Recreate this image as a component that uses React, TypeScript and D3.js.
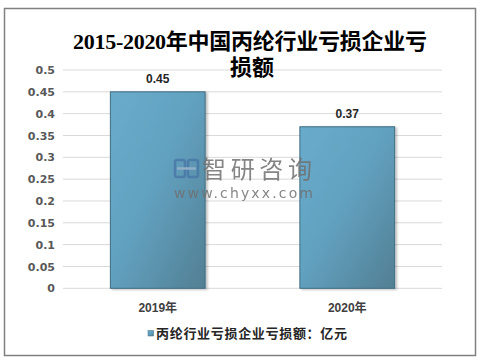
import * as d3 from "d3";
import { useEffect, useRef } from "react";

const categories = ["2019年", "2020年"];
const lossValues = [0.45, 0.37];
const yTicks = [0, 0.05, 0.1, 0.15, 0.2, 0.25, 0.3, 0.35, 0.4, 0.45, 0.5];
const titleLines = ["2015-2020年中国丙纶行业亏损企业亏", "损额"];
const seriesName = "丙纶行业亏损企业亏损额：亿元";

export default function App() {
  const svgRef = useRef<SVGSVGElement | null>(null);

  useEffect(() => {
    document.body.style.margin = "0";
    if (!svgRef.current) return;

    const svg = d3.select(svgRef.current);
    svg.selectAll("*").remove();

    const width = 488;
    const height = 359;
    const margin = { top: 70, right: 46, bottom: 70.7, left: 63 };

    svg.attr("width", width).attr("height", height).attr("viewBox", `0 0 ${width} ${height}`);

    const defs = svg.append("defs");
    const grad = defs
      .append("linearGradient")
      .attr("id", "barGrad")
      .attr("x1", 0)
      .attr("y1", 0)
      .attr("x2", 1)
      .attr("y2", 1);
    grad.append("stop").attr("offset", "0%").attr("stop-color", "#69abcb");
    grad.append("stop").attr("offset", "45%").attr("stop-color", "#62a2c1");
    grad.append("stop").attr("offset", "100%").attr("stop-color", "#527f93");

    const shadow = defs.append("filter").attr("id", "barShadow").attr("x", "-10%").attr("y", "-10%").attr("width", "130%").attr("height", "130%");
    shadow
      .append("feDropShadow")
      .attr("dx", 2)
      .attr("dy", 1)
      .attr("stdDeviation", 1.2)
      .attr("flood-color", "#000")
      .attr("flood-opacity", 0.25);

    // background + frame
    svg.append("rect").attr("width", width).attr("height", height).attr("fill", "#fff");
    svg
      .append("rect")
      .attr("x", 4.5)
      .attr("y", 8.5)
      .attr("width", 471)
      .attr("height", 347)
      .attr("fill", "#fff")
      .attr("stroke", "#808080")
      .attr("stroke-width", 1.5);

    const x = d3
      .scaleBand()
      .domain(categories)
      .range([margin.left, width - margin.right])
      .paddingInner(0.5)
      .paddingOuter(0.25);

    const y = d3
      .scaleLinear()
      .domain([0, 0.5])
      .range([height - margin.bottom, margin.top]);

    // grid lines
    svg
      .append("g")
      .selectAll("line")
      .data(yTicks)
      .join("line")
      .attr("x1", margin.left)
      .attr("x2", width - margin.right)
      .attr("y1", (d) => y(d))
      .attr("y2", (d) => y(d))
      .attr("stroke", "#d9d9d9")
      .attr("stroke-width", 1);

    // y axis labels
    const yAxis = svg
      .append("g")
      .attr("transform", `translate(${margin.left},0)`)
      .call(d3.axisLeft(y).tickValues(yTicks).tickSize(0).tickPadding(8).tickFormat((d) => String(d)));
    yAxis.select(".domain").remove();
    yAxis
      .selectAll(".tick text")
      .attr("fill", "#595959")
      .style("font-family", "'DejaVu Sans', sans-serif")
      .style("font-size", "11px")
      .style("font-weight", "bold");

    // bars
    svg
      .append("g")
      .selectAll("rect")
      .data(lossValues)
      .join("rect")
      .attr("x", (_, i) => x(categories[i])!)
      .attr("y", (d) => y(d))
      .attr("width", x.bandwidth())
      .attr("height", (d) => y(0) - y(d))
      .attr("fill", "url(#barGrad)")
      .attr("stroke", "#3f6d82")
      .attr("stroke-width", 1)
      .attr("filter", "url(#barShadow)");

    // value labels
    svg
      .append("g")
      .selectAll("text")
      .data(lossValues)
      .join("text")
      .attr("x", (_, i) => x(categories[i])! + x.bandwidth() / 2)
      .attr("y", (d) => y(d) - 9)
      .attr("text-anchor", "middle")
      .attr("fill", "#262626")
      .style("font-family", "'Liberation Sans', Arial, sans-serif")
      .style("font-size", "12px")
      .style("font-weight", "bold")
      .text((d) => String(d));

    // x labels
    svg
      .append("g")
      .selectAll("text")
      .data(categories)
      .join("text")
      .attr("x", (d) => x(d)! + x.bandwidth() / 2)
      .attr("y", 312)
      .attr("text-anchor", "middle")
      .attr("fill", "#404040")
      .style("font-family", "'Liberation Sans', 'Noto Sans CJK SC', sans-serif")
      .style("font-size", "12px")
      .style("font-weight", "bold")
      .text((d) => d);

    // watermark
    const wm = svg.append("g").attr("opacity", 0.85);
    wm.append("rect").attr("x", 175).attr("y", 160).attr("width", 10).attr("height", 17).attr("rx", 2).attr("fill", "none").attr("stroke", "#4a78a8").attr("stroke-width", 2.5);
    wm.append("rect").attr("x", 188).attr("y", 160).attr("width", 10).attr("height", 17).attr("rx", 2).attr("fill", "none").attr("stroke", "#4a78a8").attr("stroke-width", 2.5);
    wm.append("line").attr("x1", 177).attr("y1", 168.5).attr("x2", 196).attr("y2", 168.5).attr("stroke", "#9ab3cc").attr("stroke-width", 2.5);
    wm.append("text")
      .attr("x", 202)
      .attr("y", 178)
      .attr("textLength", 110)
      .attr("lengthAdjust", "spacing")
      .attr("fill", "#707070")
      .style("font-family", "'Noto Sans CJK SC', sans-serif")
      .style("font-size", "24px")
      .text("智研咨询");
    wm.append("text")
      .attr("x", 174)
      .attr("y", 198)
      .attr("textLength", 139)
      .attr("lengthAdjust", "spacing")
      .attr("fill", "#707070")
      .style("font-family", "'DejaVu Sans', sans-serif")
      .style("font-size", "14px")
      .text("www.chyxx.com");

    // title
    const title = svg
      .append("g")
      .attr("fill", "#000")
      .style("font-family", "'Liberation Serif', 'Noto Sans CJK SC', serif")
      .style("font-size", "22px")
      .style("font-weight", "bold");
    title
      .append("text")
      .attr("x", 73)
      .attr("y", 49)
      .attr("textLength", 354)
      .attr("lengthAdjust", "spacing")
      .text(titleLines[0]);
    title
      .append("text")
      .attr("x", 230)
      .attr("y", 75)
      .attr("textLength", 44)
      .attr("lengthAdjust", "spacing")
      .text(titleLines[1]);

    // legend
    const legend = svg.append("g");
    legend
      .append("rect")
      .attr("x", 148)
      .attr("y", 330.5)
      .attr("width", 5.5)
      .attr("height", 5.5)
      .attr("fill", "url(#barGrad)")
      .attr("stroke", "#3f6d82")
      .attr("stroke-width", 0.5);
    legend
      .append("text")
      .attr("x", 156)
      .attr("y", 338)
      .attr("textLength", 191)
      .attr("lengthAdjust", "spacing")
      .attr("fill", "#262626")
      .style("font-family", "'Noto Sans CJK SC', sans-serif")
      .style("font-size", "13px")
      .style("font-weight", "bold")
      .text(seriesName);
  }, []);

  return <svg ref={svgRef} style={{ display: "block" }}></svg>;
}
